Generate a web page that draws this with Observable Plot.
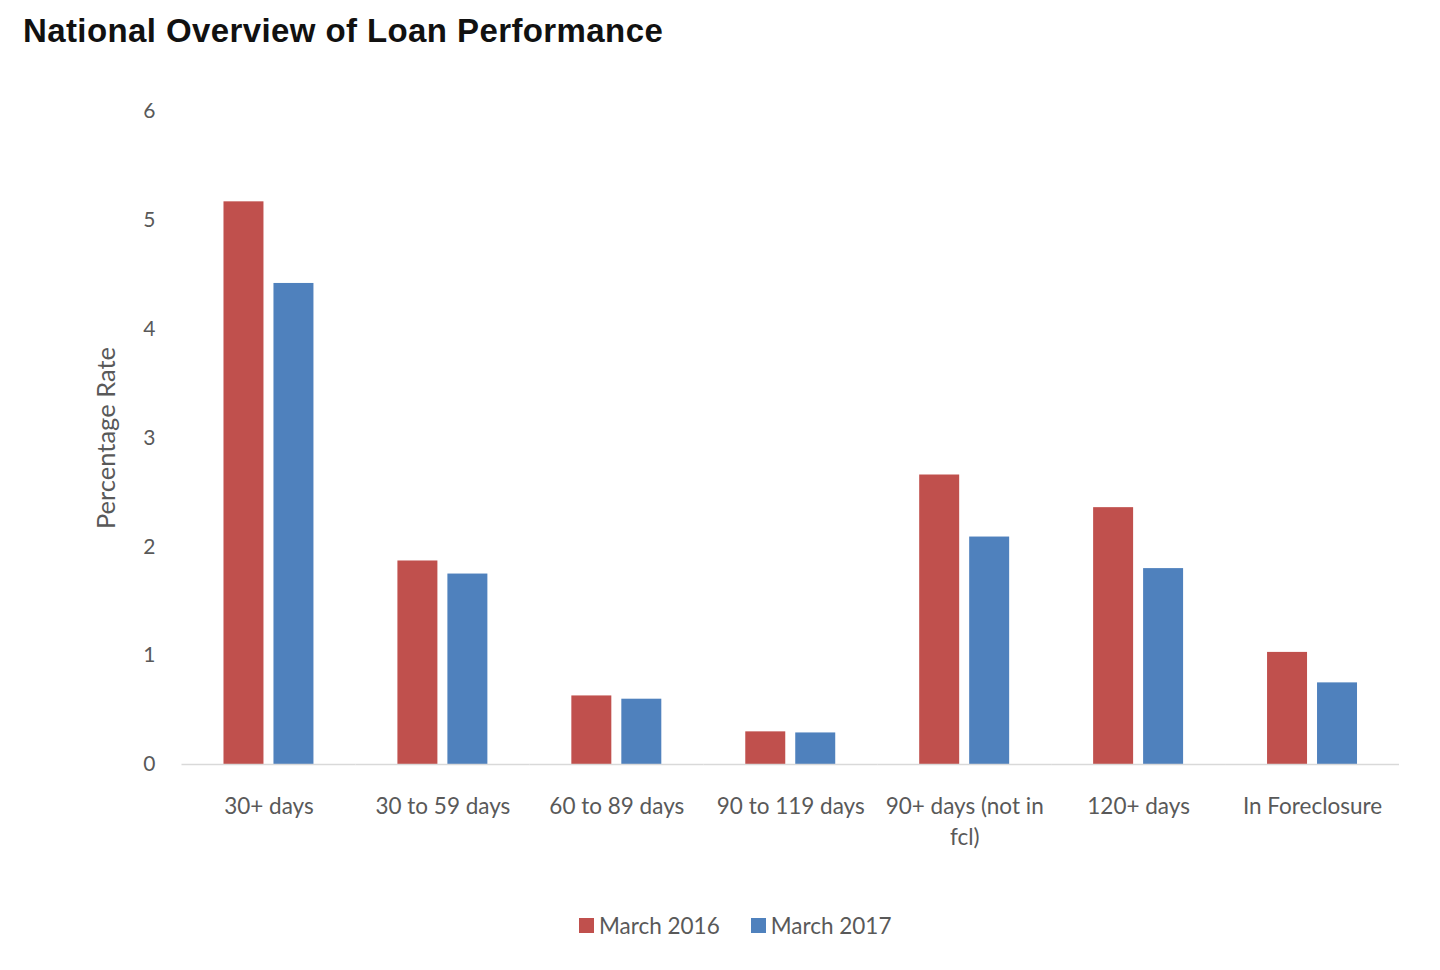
<!DOCTYPE html>
<html>
<head>
<meta charset="utf-8">
<script src="https://cdn.jsdelivr.net/npm/d3@7"></script>
<script src="https://cdn.jsdelivr.net/npm/@observablehq/plot@0.6"></script>
<style>
  html, body { margin: 0; padding: 0; background: #fff; width: 1440px; height: 970px; overflow: hidden; }
  #title { position: absolute; left: 23px; top: 12px; font-family: "Liberation Sans", Arial, sans-serif; font-weight: bold; font-size: 33px; letter-spacing: 0.4px; color: #111; white-space: nowrap; }
  #chart { position: absolute; left: 0; top: 70px; }
  #legend { position: absolute; left: 579px; top: 912px; font-family: Lato, "Open Sans", sans-serif; font-size: 22.5px; color: #595959; display: flex; align-items: center; white-space: nowrap; }
  .sw { display: inline-block; width: 15px; height: 15px; margin-right: 5px; }
  .item { display: flex; align-items: center; margin-right: 31px; }
</style>
</head>
<body>
<div id="title">National Overview of Loan Performance</div>
<div id="chart"></div>
<div id="legend"></div>
<script>
const categories = ["30+ days", "30 to 59 days", "60 to 89 days", "90 to 119 days", "90+ days (not in fcl)", "120+ days", "In Foreclosure"];
const tickLabels = ["30+ days", "30 to 59 days", "60 to 89 days", "90 to 119 days", "90+ days (not in\nfcl)", "120+ days", "In Foreclosure"];
const seriesNames = ["March 2016", "March 2017"];
const march2016 = [5.17, 1.87, 0.63, 0.30, 2.66, 2.36, 1.03];
const march2017 = [4.42, 1.75, 0.60, 0.29, 2.09, 1.80, 0.75];
const colors = ["#C0504D", "#4F81BD"];
const yTicks = [0, 1, 2, 3, 4, 5, 6];
const yLabel = ["Percentage Rate"];

const data = [];
categories.forEach((c, i) => {
  data.push({cat: c, series: seriesNames[0], value: march2016[i]});
  data.push({cat: c, series: seriesNames[1], value: march2017[i]});
});

const font = "Lato, 'Open Sans', sans-serif";

const chart = Plot.plot({
  width: 1440,
  height: 784,
  marginLeft: 181.5,
  marginRight: 41,
  marginTop: 41,
  marginBottom: 90,
  style: {fontFamily: font, fontSize: "20px", color: "#595959", background: "transparent"},
  fx: {domain: categories, padding: 0, round: false, label: null},
  x: {domain: seriesNames, paddingInner: 0.2, paddingOuter: 0.84, round: false, axis: null},
  y: {domain: [0, 6], label: null},
  color: {domain: seriesNames, range: colors},
  marks: [
    Plot.axisY({ticks: yTicks, tickFormat: "d", tickSize: 0, tickPadding: 26.5, fontSize: 21, label: null, fill: "#595959"}),
    Plot.text(yLabel, {frameAnchor: "left", textAnchor: "middle", rotate: -90, dx: -75, fontSize: 25.5, fill: "#595959", facet: "super"}),
    Plot.axisFx({anchor: "bottom", tickSize: 0, tickPadding: 27, fontSize: 22.5, lineHeight: 1.4, tickFormat: (d) => tickLabels[categories.indexOf(d)], label: null, fill: "#595959"}),
    Plot.barY(data, {fx: "cat", x: "series", y: "value", fill: "series"}),
    Plot.ruleY([0], {stroke: "#d9d9d9", strokeWidth: 1.5})
  ]
});
document.getElementById("chart").appendChild(chart);

const legend = document.getElementById("legend");
seriesNames.forEach((s, i) => {
  const item = document.createElement("span");
  item.className = "item";
  const sw = document.createElement("span");
  sw.className = "sw";
  sw.style.background = colors[i];
  item.appendChild(sw);
  item.appendChild(document.createTextNode(s));
  legend.appendChild(item);
});
</script>
</body>
</html>
